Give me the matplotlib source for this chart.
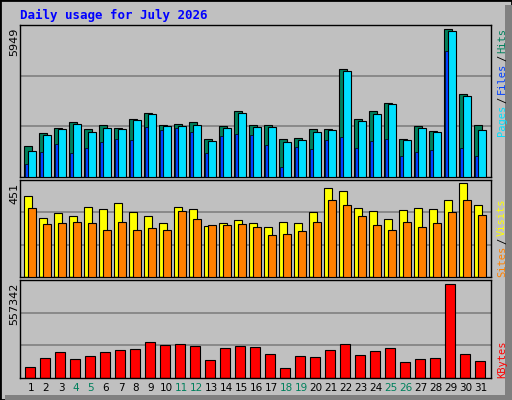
import matplotlib
matplotlib.use("Agg")
import matplotlib.pyplot as plt
from matplotlib.patches import Rectangle

days = list(range(1, 32))
weekend = [4, 5, 11, 12, 18, 19, 25, 26]
hits = [1255,1781,1983,2226,1943,2104,1983,2347,2590,2104,2145,2226,1538,2064,2671,2104,
        2104,1538,1578,1943,1943,4330,2347,2671,2995,1538,2064,1862,5949,3319,2104]
files = [1052,1700,1943,2145,1821,1983,1943,2307,2550,2064,2064,2104,1457,1983,2590,2024,
         2024,1416,1497,1821,1902,4249,2266,2550,2954,1497,1983,1821,5868,3238,1902]
pages = [526,1012,1336,971,1174,1416,1538,1497,2024,1902,1983,1821,971,1659,1740,1700,
         1295,405,1214,1133,1497,1619,1174,1457,1538,850,1012,1093,5059,1174,850]
visits = [387,284,308,294,338,328,353,313,294,259,338,328,244,259,274,259,
          239,264,259,313,426,412,333,318,279,323,333,328,372,451,348]
sites = [333,254,259,264,259,225,264,225,235,225,318,279,249,249,254,239,
         200,205,220,264,372,348,294,249,225,264,239,259,313,372,298]
kbytes = [63054,117972,154584,111870,130176,154584,166788,172890,215604,197298,203400,191196,
          105768,178992,191196,185094,142380,56952,130176,124074,166788,203400,136278,160686,
          178992,93564,111870,117972,557342,142380,99666]

W, H = 512, 400
fig = plt.figure(figsize=(W/100, H/100), dpi=100, facecolor="#c0c0c0")
fig.patches.append(Rectangle((0, 0), 1, 1, transform=fig.transFigure, fill=False, ec="black", lw=2))
fig.patches.append(Rectangle((505/W, 0), 7/W, 1-5/H, transform=fig.transFigure, fc="#808080", ec="none"))
fig.patches.append(Rectangle((5/W, 0), 1, 5/H, transform=fig.transFigure, fc="#808080", ec="none"))

def ax_at(x0, y0, x1, y1):
    a = fig.add_axes([x0/W, 1-y1/H, (x1-x0)/W, (y1-y0)/H])
    a.set_facecolor("#c0c0c0")
    for s in a.spines.values():
        s.set_color("black"); s.set_linewidth(1)
    a.set_xticks([]); a.set_yticks([])
    a.set_xlim(0.2, 31.6)
    return a

GREEN = "#00805c"
mono = "DejaVu Sans Mono"
fig.text(20/W, 1-15/H, "Daily usage for July 2026", color="#0000ff", fontsize=9,
         fontweight="bold", family=mono, va="center", ha="left")

x = days
# panel 1
a1 = ax_at(20, 25, 491, 177)
top1 = max(hits) * 151/147
a1.set_ylim(0, top1)
for f in (1/3, 2/3):
    a1.axhline(top1*f, color="#808080", lw=1.2, zorder=0)
a1.bar([d-0.27 for d in x], hits, width=0.53, color=GREEN, ec="black", lw=0.8, zorder=2)
a1.bar([d+0.0 for d in x], files, width=0.53, color="#00e0ff", ec="black", lw=0.8, zorder=3)
a1.bar([d-0.36 for d in x], pages, width=0.17, color="#0040ff", ec="black", lw=0.5, zorder=4)
fig.text(14/W, 1-28/H, str(max(hits)), rotation=90, va="top", ha="center", fontsize=8)

# panel 2
a2 = ax_at(20, 180, 491, 277)
top2 = max(visits) * 95/92
a2.set_ylim(0, top2)
for f in (1/3, 2/3):
    a2.axhline(top2*f, color="#808080", lw=1.2, zorder=0)
a2.bar([d-0.27 for d in x], visits, width=0.53, color="#ffff00", ec="black", lw=0.8, zorder=2)
a2.bar([d+0.0 for d in x], sites, width=0.53, color="#ff8000", ec="black", lw=0.8, zorder=3)
fig.text(14/W, 1-183/H, str(max(visits)), rotation=90, va="top", ha="center", fontsize=8)

# panel 3
a3 = ax_at(20, 280, 491, 378)
top3 = max(kbytes) * 95/91.3
a3.set_ylim(0, top3)
for f in (1/3, 2/3):
    a3.axhline(top3*f, color="#808080", lw=1.2, zorder=0)
a3.bar([d-0.13 for d in x], kbytes, width=0.67, color="#ff0000", ec="black", lw=0.8, zorder=2)
fig.text(14/W, 1-283/H, str(max(kbytes)), rotation=90, va="top", ha="center", fontsize=8)

for d in days:
    px = 20 + (d - 0.2) / (31.6 - 0.2) * 471
    fig.text(px/W - 1/W, 1-388/H, str(d), ha="center", va="center", fontsize=7.5,
             color=GREEN if d in weekend else "black")

def rtext(s, ytop, color):
    fig.text(502/W, 1-ytop/H, s, rotation=90, va="top", ha="center", fontsize=7.5,
             family=mono, color=color)
rtext("Hits", 28, GREEN); rtext("/", 55, "black"); rtext("Files", 63, "#0040ff")
rtext("/", 97, "black"); rtext("Pages", 105, "#00e0ff")
rtext("Visits", 198, "#ffff00"); rtext("/", 238, "black"); rtext("Sites", 246, "#ff8000")
rtext("KBytes", 341, "#ff0000")

fig.savefig("out.png", dpi=100, facecolor=fig.get_facecolor())
